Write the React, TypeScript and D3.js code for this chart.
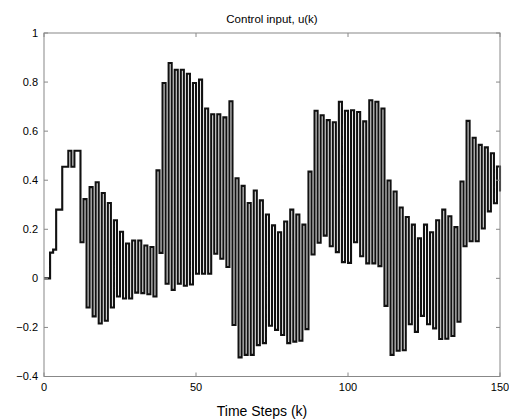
import React, {useEffect, useRef} from 'react';
import * as d3 from 'd3';

// control input u(k), k = 0..150
const uValues = [
    0, 0, 0.105, 0.117, 0.28, 0.28, 0.455, 0.455, 0.52, 0.455,
    0.52, 0.52, 0.147, 0.323, -0.119, 0.372, -0.155, 0.392, -0.184, 0.348,
    -0.173, 0.307, -0.119, 0.237, -0.074, 0.19, -0.082, 0.142, -0.082, 0.154,
    -0.058, 0.154, -0.06, 0.134, -0.065, 0.128, -0.074, 0.44, 0.104, 0.796,
    -0.022, 0.878, -0.047, 0.85, -0.022, 0.85, -0.03, 0.834, -0.025, 0.796,
    0.019, 0.81, 0.019, 0.692, 0.019, 0.669, 0.10, 0.669, 0.08, 0.656,
    0.046, 0.722, -0.19, 0.408, -0.322, 0.377, -0.312, 0.307, -0.312, 0.358,
    -0.272, 0.318, -0.264, 0.26, -0.193, 0.216, -0.21, 0.188, -0.231, 0.232,
    -0.264, 0.28, -0.258, 0.26, -0.254, 0.219, -0.207, 0.435, 0.097, 0.683,
    0.145, 0.665, 0.174, 0.645, 0.131, 0.636, 0.107, 0.72, 0.066, 0.683,
    0.063, 0.685, 0.147, 0.678, 0.09, 0.64, 0.061, 0.726, 0.061, 0.72,
    0.05, 0.692, -0.112, 0.399, -0.312, 0.354, -0.295, 0.289, -0.293, 0.25,
    -0.187, 0.219, -0.218, 0.163, -0.153, 0.219, -0.187, 0.188, -0.204, 0.237,
    -0.247, 0.28, -0.246, 0.253, -0.235, 0.209, -0.177, 0.395, 0.131, 0.642,
    0.151, 0.573, 0.151, 0.544, 0.203, 0.534, 0.273, 0.51, 0.306, 0.456,
    0.354
];

const xTicks = [0, 50, 100, 150];
const yTicks = [-0.4, -0.2, 0, 0.2, 0.4, 0.6, 0.8, 1];
const titleText = 'Control input, u(k)';
const xLabelText = 'Time Steps (k)';

const width = 509;
const height = 419;
const margin = {top: 33, right: 9, bottom: 42.5, left: 44};
const font = '"Liberation Sans", Arial, sans-serif';

function App() {
    const svgRef = useRef<SVGSVGElement>(null);

    useEffect(() => {
        const svg = d3.select(svgRef.current);
        svg.selectAll('*').remove();

        const innerW = width - margin.left - margin.right;
        const innerH = height - margin.top - margin.bottom;

        const xScale = d3.scaleLinear().domain([0, 150]).range([0, innerW]);
        const yScale = d3.scaleLinear().domain([-0.4, 1]).range([innerH, 0]);

        svg.append('rect')
            .attr('width', width)
            .attr('height', height)
            .attr('fill', '#fff');

        const g = svg.append('g')
            .attr('transform', `translate(${margin.left}, ${margin.top})`);

        // stairs line
        const line = d3.line<number>()
            .x((d, i) => xScale(i))
            .y(d => yScale(d))
            .curve(d3.curveStepAfter);

        g.append('path')
            .datum(uValues)
            .attr('fill', 'none')
            .attr('stroke', '#111')
            .attr('stroke-width', 2.1)
            .attr('d', line);

        // box
        g.append('rect')
            .attr('x', 0)
            .attr('y', 0)
            .attr('width', innerW)
            .attr('height', innerH)
            .attr('fill', 'none')
            .attr('stroke', '#888')
            .attr('stroke-width', 1);

        const tickLen = 4;
        const tickColor = '#888';

        // x ticks (inside, top and bottom)
        xTicks.forEach(t => {
            const x = xScale(t);
            g.append('line').attr('x1', x).attr('x2', x).attr('y1', innerH).attr('y2', innerH - tickLen)
                .attr('stroke', tickColor);
            g.append('line').attr('x1', x).attr('x2', x).attr('y1', 0).attr('y2', tickLen)
                .attr('stroke', tickColor);
            g.append('text')
                .attr('x', x)
                .attr('y', innerH + 14)
                .attr('text-anchor', 'middle')
                .style('font-family', font)
                .style('font-size', '11px')
                .text(t);
        });

        // y ticks (inside, left and right)
        yTicks.forEach(t => {
            const y = yScale(t);
            g.append('line').attr('x1', 0).attr('x2', tickLen).attr('y1', y).attr('y2', y)
                .attr('stroke', tickColor);
            g.append('line').attr('x1', innerW).attr('x2', innerW - tickLen).attr('y1', y).attr('y2', y)
                .attr('stroke', tickColor);
            g.append('text')
                .attr('x', -6)
                .attr('y', y)
                .attr('dy', '0.35em')
                .attr('text-anchor', 'end')
                .style('font-family', font)
                .style('font-size', '11px')
                .text(d3.format('~g')(t));
        });

        svg.append('text')
            .attr('x', margin.left + innerW / 2)
            .attr('y', 23)
            .attr('text-anchor', 'middle')
            .style('font-family', font)
            .style('font-size', '11.5px')
            .text(titleText);

        svg.append('text')
            .attr('x', margin.left + innerW / 2 - 10)
            .attr('y', 416)
            .attr('text-anchor', 'middle')
            .style('font-family', font)
            .style('font-size', '14px')
            .text(xLabelText);
    }, []);

    return (
        <svg ref={svgRef} width={width} height={height}
             style={{position: 'absolute', left: 0, top: 0, display: 'block'}}/>
    );
}

export default App;
